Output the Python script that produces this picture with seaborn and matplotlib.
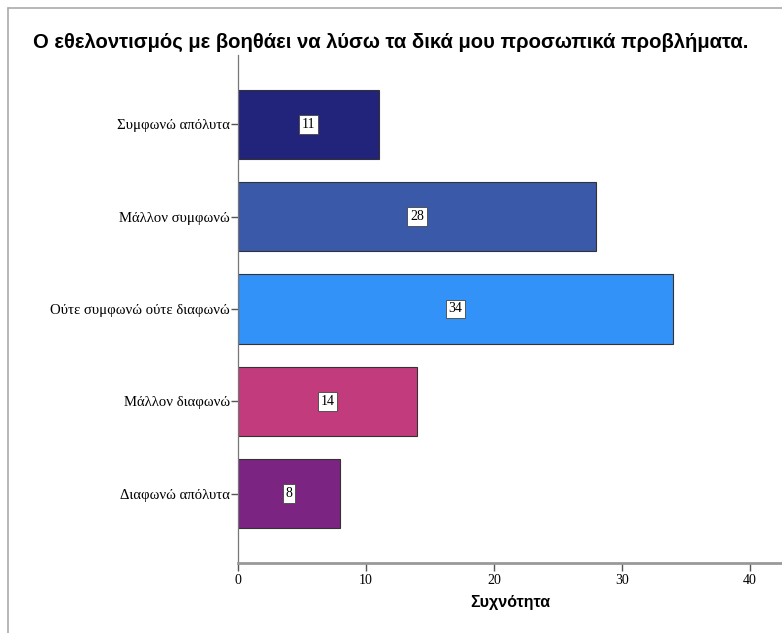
import matplotlib
matplotlib.use("Agg")
import matplotlib.pyplot as plt
import seaborn as sns
import pandas as pd
from matplotlib.lines import Line2D

categories = ["Συμφωνώ απόλυτα", "Μάλλον συμφωνώ", "Ούτε συμφωνώ ούτε διαφωνώ",
              "Μάλλον διαφωνώ", "Διαφωνώ απόλυτα"]
counts = [11, 28, 34, 14, 8]
colors = ["#22237a", "#3b59a9", "#3392f7", "#c23c7d", "#7b2482"]
xticks = [0, 10, 20, 30, 40]
title = "Ο εθελοντισμός με βοηθάει να λύσω τα δικά μου προσωπικά προβλήματα."
xlabel = "Συχνότητα"

sns.set_theme(style="white")
plt.rcParams['font.family'] = ['Liberation Sans', 'DejaVu Sans']
plt.rcParams['text.color'] = 'black'
plt.rcParams['axes.labelcolor'] = 'black'
plt.rcParams['xtick.color'] = 'black'
plt.rcParams['ytick.color'] = 'black'

df = pd.DataFrame({"cat": categories, "n": counts})

fig = plt.figure(figsize=(7.82, 6.33), dpi=100)
ax = fig.add_axes([238/782, 1-563/633, 1-238/782, (563-55)/633])

sns.barplot(data=df, x="n", y="cat", hue="cat", palette=colors, orient="h",
            width=0.75, edgecolor="#333333", linewidth=0.8, legend=False, ax=ax,
            order=categories, hue_order=categories, saturation=1)

for cont in ax.containers:
    ax.bar_label(cont, label_type="center", fontsize=10, family="Liberation Serif",
                 color="black",
                 bbox=dict(boxstyle="square,pad=0.2", fc="white", ec="#444444", lw=0.6))

ax.set_xlim(0, 544/12.8)
ax.set_ylim(4.75, -0.75)
ax.set_xticks(xticks)
ax.set_xticklabels([str(t) for t in xticks], family="Liberation Serif", fontsize=10)
ax.set_yticks(range(len(categories)))
ax.set_yticklabels(categories, family="Liberation Serif", fontsize=10.6)
ax.set_ylabel("")
ax.set_xlabel(xlabel, fontsize=11.5, fontweight="bold", labelpad=6)

for s in ["top", "right"]:
    ax.spines[s].set_visible(False)
ax.spines["left"].set_color("#777777")
ax.spines["left"].set_linewidth(0.9)
ax.spines["bottom"].set_color("#999999")
ax.spines["bottom"].set_linewidth(2)
ax.tick_params(axis="x", bottom=True, direction="out", length=6, width=1, color="#555555", pad=2)
ax.tick_params(axis="y", left=True, direction="out", length=5, width=1, color="#555555", pad=1)

fig.text(0.5, 1-42/633, title, ha="center", va="center", fontsize=14.6, fontweight="bold")

fig.add_artist(Line2D([8/782, 8/782], [0, 1-8/633], transform=fig.transFigure, color="#aaaaaa", lw=1.2))
fig.add_artist(Line2D([8/782, 1], [1-8/633, 1-8/633], transform=fig.transFigure, color="#aaaaaa", lw=1.2))

fig.savefig("out.png", dpi=100)
